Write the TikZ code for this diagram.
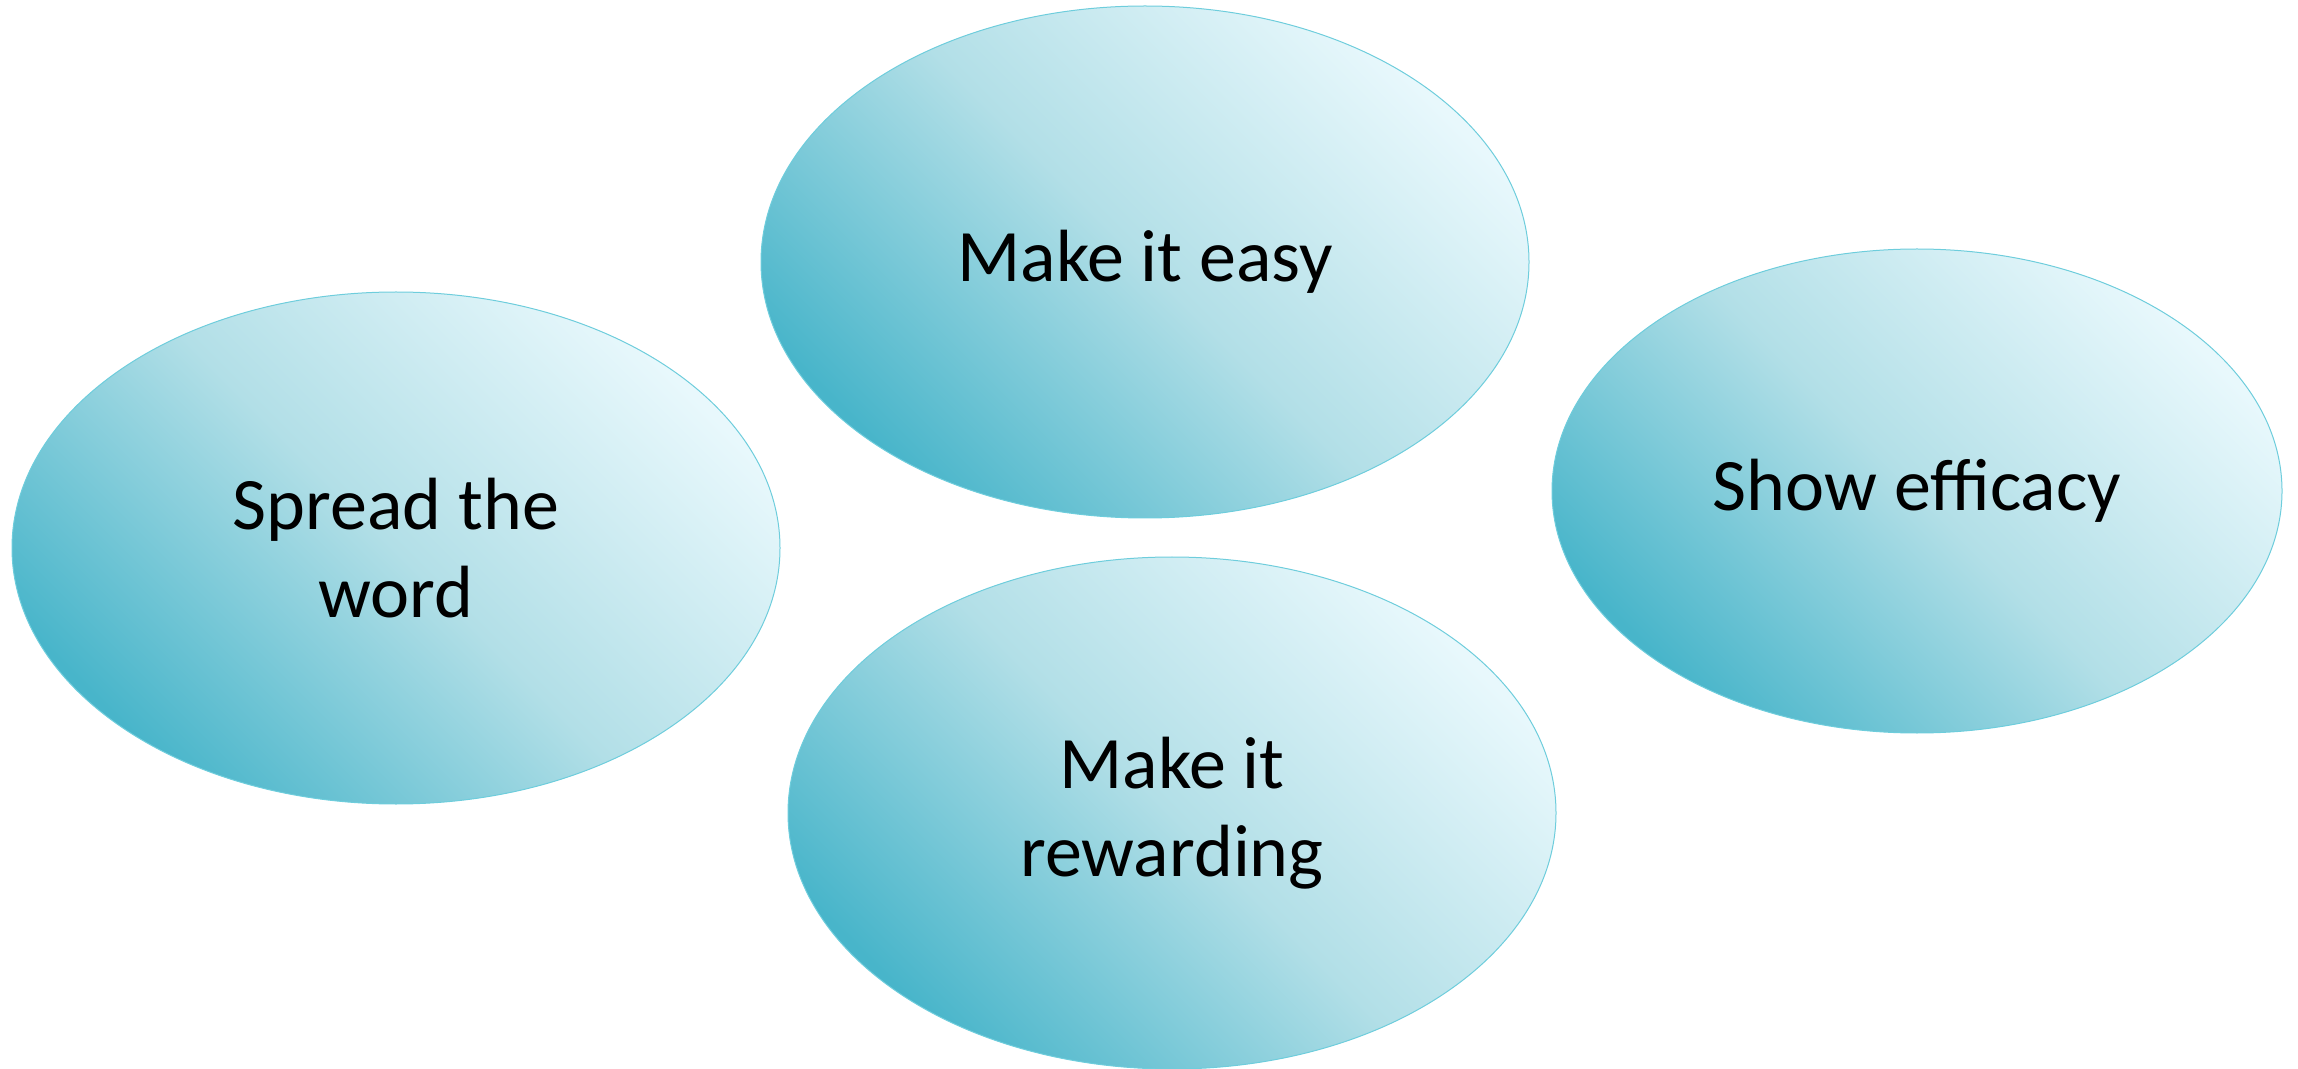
\documentclass[tikz,border=0pt]{standalone}
\usepackage{xcolor}
\usepackage{fontspec}
\setmainfont{Carlito}
\usetikzlibrary{shapes.geometric}
\definecolor{tealdark}{RGB}{72,181,202}
\definecolor{tealmid}{RGB}{178,223,231}
\definecolor{teallight}{RGB}{232,248,252}
\definecolor{rim}{RGB}{110,205,220}
\tikzstyle{idea}=[ellipse, draw=rim, line width=.5pt, minimum width=384pt, minimum height=256pt, inner sep=0pt, align=center, bottom color=tealdark, top color=teallight, middle color=tealmid, shading angle=-45, font=\fontsize{37}{44}\selectfont]
\tikzset{x=.5pt}
\tikzset{y=-.5pt}

\begin{document}
\begin{tikzpicture}
  \clip (0,0) rectangle (2298,1069);
  \useasboundingbox (0,0) rectangle (2298,1069);

  \draw (1145,262) node[idea] (easy) {Make it easy};
  \draw (396,548) node[idea] (spread) {Spread the\\word};
  \draw (1917,491) node[idea,minimum width=365pt,minimum height=242pt] (efficacy) {Show efficacy};
  \draw (1172,813) node[idea] (reward) {Make it\\rewarding};
\end{tikzpicture}
\end{document}
